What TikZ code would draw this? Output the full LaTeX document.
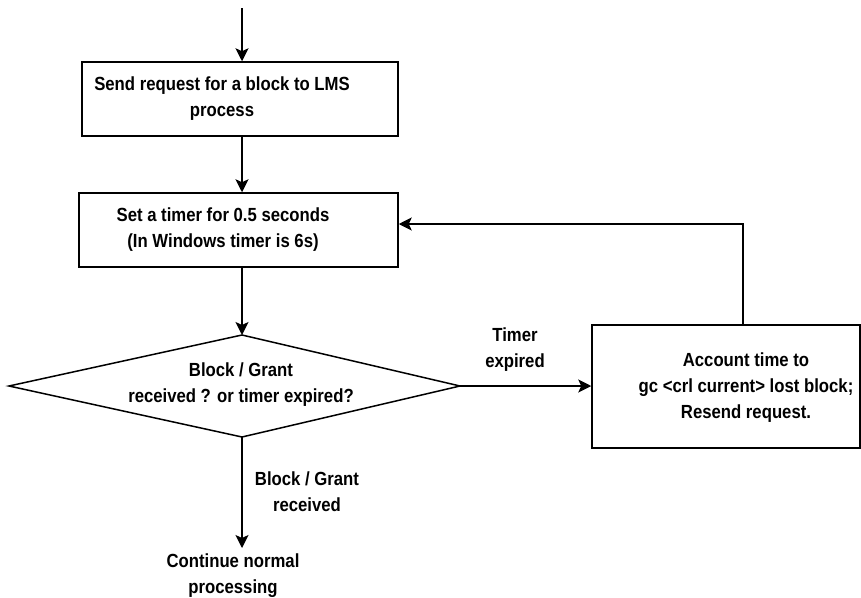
\documentclass[tikz,border=0pt]{standalone}
\usepackage{fontspec}
\setmainfont{Liberation Sans}[UprightFont=* Bold,FakeStretch=0.88]
\usetikzlibrary{arrows.meta,calc}
\begin{document}
\begin{tikzpicture}[x=1pt,y=-1pt,
  line width=1.5pt,
  flow/.style={-{Stealth[length=13pt,width=13pt,inset=3pt]}},
  box/.style={draw,rectangle,inner sep=0pt},
  txt/.style={align=center,font=\fontsize{19}{26}\selectfont,inner sep=0pt}]
\useasboundingbox (0,0) rectangle (861,597);

% main vertical axis of the flow
\coordinate (axis) at (242,0);
\coordinate (start) at (242,8);

% process boxes
\node[box,minimum width=316pt,minimum height=74pt] (send) at (240,99) {};
\node[txt] (sendtxt) at (222,99) {Send request for a block to LMS\\process};

\node[box,minimum width=319pt,minimum height=74pt] (timer) at (238.5,230) {};
\node[txt] (timertxt) at (223,230) {Set a timer for 0.5 seconds\\(In Windows timer is 6s)};

\node[box,minimum width=268pt,minimum height=123pt] (resend) at (726,386.5) {};
\node[txt] (resendtxt) at (746,388) {Account time to\\gc <crl current> lost block;\\Resend request.};

% decision diamond
\coordinate (dtop) at (242,335);
\coordinate (dright) at (460,386);
\coordinate (dbottom) at (242,437);
\coordinate (dleft) at (9,386);
\draw (dtop) -- (dright) -- (dbottom) -- (dleft) -- cycle;
\node[txt] (decision) at (241,385) {Block / Grant\\received ? or timer expired?};

% end of the flow
\coordinate (endpt) at (242,548);
\node[txt,anchor=north] (cont) at (233,553) {Continue normal\\processing};

% connectors
\draw[flow] (start) -- (send.north -| axis);
\draw[flow] (send.south -| axis) -- (timer.north -| axis);
\draw[flow] (timer.south -| axis) -- (dtop);
\draw[flow] (dright) -- (resend.west |- dright);
\draw[flow] (resend.north -| 743,0) -- (743,224) -- (timer.east |- 0,224);
\draw[flow] (dbottom) -- (endpt);

% branch labels
\node[txt] (lbltimer) at (515,350) {Timer\\expired};
\node[txt] (lblgrant) at (307,492) {Block / Grant\\received};
\end{tikzpicture}
\end{document}
